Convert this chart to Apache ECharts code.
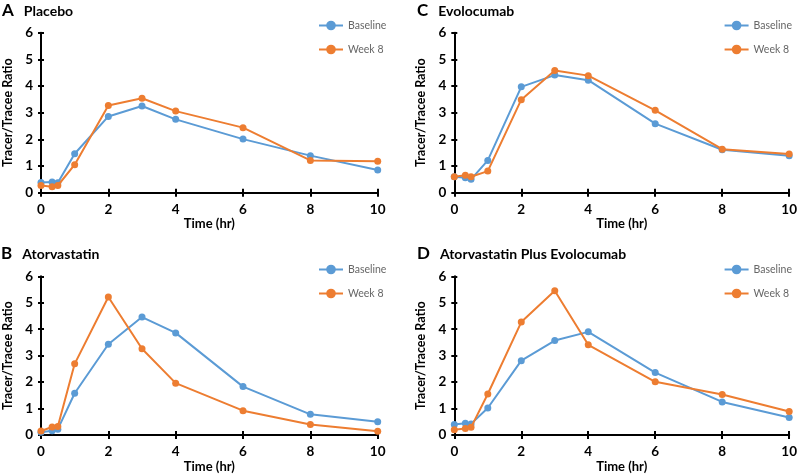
<!DOCTYPE html>
<html>
<head>
<meta charset="utf-8">
<script src="https://cdn.jsdelivr.net/npm/echarts@6/dist/echarts.min.js"></script>
<style>html,body{margin:0;padding:0;background:#fff}#c{width:800px;height:474px}</style>
</head>
<body>
<div id="c"></div>
<script>
// ---- data ----
const timePoints = [0, 0.33, 0.5, 1, 2, 3, 4, 6, 8, 10];
const panelLetters = ['A', 'C', 'B', 'D'];
const panelTitles = ['Placebo', 'Evolocumab', 'Atorvastatin', 'Atorvastatin Plus Evolocumab'];
const seriesNames = ['Baseline', 'Week 8'];
const placeboBaseline = [0.38, 0.40, 0.37, 1.46, 2.86, 3.25, 2.75, 2.01, 1.39, 0.85];
const placeboWeek8 = [0.27, 0.22, 0.27, 1.05, 3.27, 3.54, 3.06, 2.44, 1.21, 1.18];
const evolocumabBaseline = [0.60, 0.56, 0.50, 1.21, 3.97, 4.41, 4.22, 2.59, 1.61, 1.39];
const evolocumabWeek8 = [0.60, 0.65, 0.60, 0.81, 3.49, 4.58, 4.39, 3.09, 1.63, 1.45];
const atorvastatinBaseline = [0.10, 0.16, 0.22, 1.58, 3.43, 4.46, 3.86, 1.83, 0.78, 0.50];
const atorvastatinWeek8 = [0.15, 0.30, 0.32, 2.69, 5.22, 3.26, 1.96, 0.92, 0.40, 0.14];
const comboBaseline = [0.40, 0.44, 0.42, 1.02, 2.81, 3.57, 3.90, 2.36, 1.25, 0.66];
const comboWeek8 = [0.20, 0.25, 0.29, 1.55, 4.27, 5.45, 3.41, 2.01, 1.53, 0.89];
const yMin = 0, yMax = 6, yStep = 1;
const xMin = 0, xMax = 10, xStep = 2;
const xAxisTitle = 'Time (hr)';
const yAxisTitle = 'Tracer/Tracee Ratio';

const panelData = [
  [placeboBaseline, placeboWeek8],
  [evolocumabBaseline, evolocumabWeek8],
  [atorvastatinBaseline, atorvastatinWeek8],
  [comboBaseline, comboWeek8]
];
const colors = ['#5B9BD5', '#ED7D31'];
const FONT = 'Lato, "Open Sans", sans-serif';

// ---- layout ----
const panels = [
  {left: 40.7, top: 32.7, title: [2, 2], legend: {left: 318, top: 20}},
  {left: 454.3, top: 32.7, title: [417, 2], legend: {right: 8, top: 20}},
  {left: 40.7, top: 276.3, title: [1, 245], legend: {left: 318, top: 264}},
  {left: 454.3, top: 276.3, title: [417, 245], legend: {right: 8, top: 264}}
];
const gridW = 337, gridH = 160;

const option = {
  animation: false,
  backgroundColor: '#fff',
  title: [], grid: [], xAxis: [], yAxis: [], legend: [], series: []
};

panels.forEach((p, i) => {
  option.title.push({
    left: p.title[0], top: p.title[1], padding: 0,
    text: '{a|' + panelLetters[i] + '}  {b|' + panelTitles[i] + '}',
    textStyle: {
      rich: {
        a: {fontFamily: FONT, fontWeight: 'bold', fontSize: 17, color: '#000'},
        b: {fontFamily: FONT, fontWeight: 'bold', fontSize: 14, color: '#000'}
      }
    }
  });
  option.grid.push({left: p.left, top: p.top, width: gridW, height: gridH, containLabel: false});
  const axLine = {show: true, lineStyle: {color: '#000', width: 2}};
  option.xAxis.push({
    type: 'value', gridIndex: i, min: xMin, max: xMax, interval: xStep,
    axisLine: axLine, axisTick: {show: true, length: 4, lineStyle: {color: '#000', width: 2}},
    splitLine: {show: false},
    axisLabel: {fontFamily: FONT, fontWeight: 'bold', fontSize: 13.5, color: '#000', margin: 10},
    name: xAxisTitle, nameLocation: 'middle', nameGap: 25,
    nameTextStyle: {fontFamily: FONT, fontWeight: 'bold', fontSize: 13, color: '#000'}
  });
  option.yAxis.push({
    type: 'value', gridIndex: i, min: yMin, max: yMax, interval: yStep,
    axisLine: axLine, axisTick: {show: true, length: 3, lineStyle: {color: '#000', width: 2}},
    splitLine: {show: false},
    axisLabel: {fontFamily: FONT, fontWeight: 'bold', fontSize: 13.5, color: '#000', margin: 8},
    name: yAxisTitle, nameLocation: 'middle', nameGap: 27,
    nameTextStyle: {fontFamily: FONT, fontWeight: 'bold', fontSize: 12.5, color: '#000'}
  });
});
// inside-tick duplicates for crossing ticks
panels.forEach((p, i) => {
  option.xAxis.push({
    type: 'value', gridIndex: i, min: xMin, max: xMax, interval: xStep, position: 'bottom',
    axisLine: {show: false}, axisLabel: {show: false}, splitLine: {show: false},
    axisTick: {show: true, inside: true, length: 4, lineStyle: {color: '#000', width: 2}}
  });
  option.yAxis.push({
    type: 'value', gridIndex: i, min: yMin, max: yMax, interval: yStep, position: 'left',
    axisLine: {show: false}, axisLabel: {show: false}, splitLine: {show: false},
    axisTick: {show: true, inside: true, length: 3, lineStyle: {color: '#000', width: 2}}
  });
});

panels.forEach((p, i) => {
  option.legend.push(Object.assign({
    orient: 'vertical', padding: 0,
    itemWidth: 24, itemHeight: 12, itemGap: 13, itemSymbolSize: 8,
    data: seriesNames,
    textStyle: {fontFamily: FONT, fontSize: 10.5, color: '#666'}
  }, p.legend));
  panelData[i].forEach((vals, s) => {
    option.series.push({
      type: 'line', name: seriesNames[s], xAxisIndex: i, yAxisIndex: i,
      data: timePoints.map((t, k) => [t, vals[k]]),
      symbol: 'circle', symbolSize: 7, z: 3 + s,
      lineStyle: {color: colors[s], width: 2},
      itemStyle: {color: colors[s]}
    });
  });
});

const chart = echarts.init(document.getElementById('c'), null, {renderer: 'canvas'});
chart.setOption(option);
</script>
</body>
</html>
